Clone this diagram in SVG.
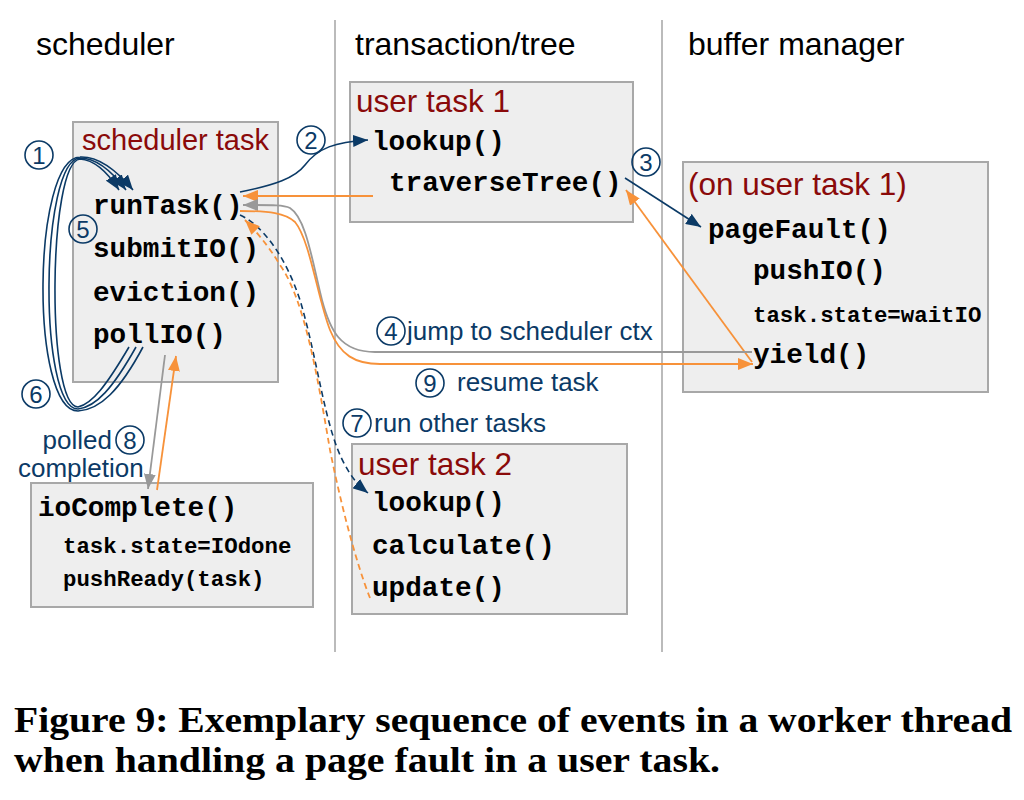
<svg xmlns="http://www.w3.org/2000/svg" width="1024" height="800" viewBox="0 0 1024 800">
<style>
.hdr{font-family:"Liberation Sans",Arial,sans-serif;font-size:32px;fill:#000}
.ttl{font-family:"Liberation Sans",Arial,sans-serif;font-size:31.5px;fill:#8a0a0a}
.ttls{font-family:"Liberation Sans",Arial,sans-serif;font-size:29px;fill:#8a0a0a}
.code{font-family:"Liberation Mono","Courier New",monospace;font-weight:bold;font-size:27.7px;fill:#000}
.code2{font-family:"Liberation Mono","Courier New",monospace;font-weight:bold;font-size:22.4px;fill:#000}
.lbl{font-family:"Liberation Sans",Arial,sans-serif;font-size:26px;fill:#0b3a66}
.num{font-family:"Liberation Sans",Arial,sans-serif;font-size:24px;fill:#0b3a66;text-anchor:middle}
.circ{fill:none;stroke:#0b3a66;stroke-width:1.6}
.box{fill:#eeeeee;stroke:#a8a8a8;stroke-width:2}
.sep{stroke:#aaaaaa;stroke-width:1.6}
.blue{fill:none;stroke:#0b3a66;stroke-width:1.6}
.orange{fill:none;stroke:#f7923a;stroke-width:1.8}
.gray{fill:none;stroke:#999999;stroke-width:1.8}
.dash{stroke-dasharray:6,4}
.cap{font-family:"Liberation Serif","Times New Roman",serif;font-weight:bold;font-size:35px;fill:#000}
</style>
<defs>
<marker id="ab" markerUnits="userSpaceOnUse" markerWidth="16" markerHeight="12" refX="15" refY="6" orient="auto"><path d="M0,0 L15,6 L0,12 Z" fill="#0b3a66"/></marker>
<marker id="ao" markerUnits="userSpaceOnUse" markerWidth="16" markerHeight="12" refX="15" refY="6" orient="auto"><path d="M0,0 L15,6 L0,12 Z" fill="#f7923a"/></marker>
<marker id="ag" markerUnits="userSpaceOnUse" markerWidth="16" markerHeight="12" refX="15" refY="6" orient="auto"><path d="M0,0 L15,6 L0,12 Z" fill="#999999"/></marker>
</defs>
<rect width="1024" height="800" fill="#ffffff"/>

<g id="lanes">
<line class="sep" x1="335" y1="20" x2="335" y2="652"/>
<line class="sep" x1="662" y1="20" x2="662" y2="652"/>
<text class="hdr" x="36" y="55">scheduler</text>
<text class="hdr" x="355" y="55">transaction/tree</text>
<text class="hdr" x="688" y="55">buffer manager</text>
</g>

<g id="scheduler-task">
<rect class="box" x="73" y="122" width="205" height="260"/>
<text class="ttls" x="82" y="150">scheduler task</text>
<text class="code" x="93" y="214">runTask()</text>
<text class="code" x="93" y="257">submitIO()</text>
<text class="code" x="93" y="301">eviction()</text>
<text class="code" x="93" y="343">pollIO()</text>
</g>

<g id="user-task-1">
<rect class="box" x="350" y="82" width="283" height="140"/>
<text class="ttl" x="356" y="112">user task 1</text>
<text class="code" x="372" y="150">lookup()</text>
<text class="code" x="389" y="191">traverseTree()</text>
</g>

<g id="buffer-manager">
<rect class="box" x="683" y="162" width="305" height="230"/>
<text class="ttl" x="688" y="195">(on user task 1)</text>
<text class="code" x="708" y="238">pageFault()</text>
<text class="code" x="753" y="279">pushIO()</text>
<text class="code2" x="753" y="322">task.state=waitIO</text>
<text class="code" x="753" y="363">yield()</text>
</g>

<g id="user-task-2">
<rect class="box" x="352" y="444" width="275" height="170"/>
<text class="ttl" x="358" y="475">user task 2</text>
<text class="code" x="372" y="511">lookup()</text>
<text class="code" x="372" y="554">calculate()</text>
<text class="code" x="372" y="596">update()</text>
</g>

<g id="io-complete">
<rect class="box" x="31" y="483" width="282" height="124"/>
<text class="code" x="38" y="516">ioComplete()</text>
<text class="code2" x="63" y="553">task.state=IOdone</text>
<text class="code2" x="63" y="586">pushReady(task)</text>
</g>

<g id="connectors">
<path class="blue" d="M143,347 C120,390 100,410 78,411 C30,411 32,158 80,157 C100,156 118,172 133,190" marker-end="url(#ab)"/>
<path class="blue" d="M136,347 C113,388 96,407 78,409 C38,409 40,160 80,158 C98,158 114,174 126,190" marker-end="url(#ab)"/>
<path class="blue" d="M129,347 C106,386 92,404 78,407 C46,407 48,162 80,159 C96,160 110,176 119,190" marker-end="url(#ab)"/>
<path class="blue" d="M240,192 C275,185 295,178 305,165 C318,148 335,142 368,140" marker-end="url(#ab)"/>
<path class="orange" d="M373,196 L243,196" marker-end="url(#ao)"/>
<path class="blue" d="M625,178 L701,227" marker-end="url(#ab)"/>
<path class="orange" d="M752,362 L626,190" marker-end="url(#ao)"/>
<path class="gray" d="M752,352 L375,352 C340,352 330,330 322,300 C312,260 306,218 290,208 C284,205 275,205 243,205" marker-end="url(#ag)"/>
<path class="orange" d="M240,211 C270,211 285,213 295,222 C310,240 318,300 330,330 C340,355 355,364 380,364 L753,364" marker-end="url(#ao)"/>
<path class="blue dash" d="M240,215 C262,225 285,255 300,300 C318,360 325,430 345,465 C352,478 358,485 368,493" marker-end="url(#ab)"/>
<path class="orange dash" d="M370,598 C355,560 340,500 330,450 C318,380 305,300 280,265 C268,245 255,230 245,220" marker-end="url(#ao)"/>
<path class="gray" d="M165,355 L148,489" marker-end="url(#ag)"/>
<path class="orange" d="M157,490 L176,356" marker-end="url(#ao)"/>
</g>

<g id="labels">
<circle class="circ" cx="39" cy="155" r="14"/><text class="num" x="39" y="164">1</text>
<circle class="circ" cx="311" cy="140" r="14"/><text class="num" x="311" y="149">2</text>
<circle class="circ" cx="646" cy="162" r="14"/><text class="num" x="646" y="171">3</text>
<circle class="circ" cx="391" cy="331" r="14"/><text class="num" x="391" y="340">4</text>
<circle class="circ" cx="83" cy="229" r="14"/><text class="num" x="83" y="238">5</text>
<circle class="circ" cx="36" cy="394" r="14"/><text class="num" x="36" y="403">6</text>
<circle class="circ" cx="357" cy="423" r="14"/><text class="num" x="357" y="432">7</text>
<circle class="circ" cx="130" cy="440" r="14"/><text class="num" x="130" y="449">8</text>
<circle class="circ" cx="430" cy="383" r="14"/><text class="num" x="430" y="392">9</text>
<text class="lbl" x="407" y="340">jump to scheduler ctx</text>
<text class="lbl" x="457" y="391">resume task</text>
<text class="lbl" x="374" y="432">run other tasks</text>
<text class="lbl" x="112" y="449" text-anchor="end">polled</text>
<text class="lbl" x="18" y="477">completion</text>
</g>

<g id="caption">
<text class="cap" x="14" y="732" textLength="998" lengthAdjust="spacingAndGlyphs">Figure 9: Exemplary sequence of events in a worker thread</text>
<text class="cap" x="14" y="772" textLength="706" lengthAdjust="spacingAndGlyphs">when handling a page fault in a user task.</text>
</g>
</svg>
